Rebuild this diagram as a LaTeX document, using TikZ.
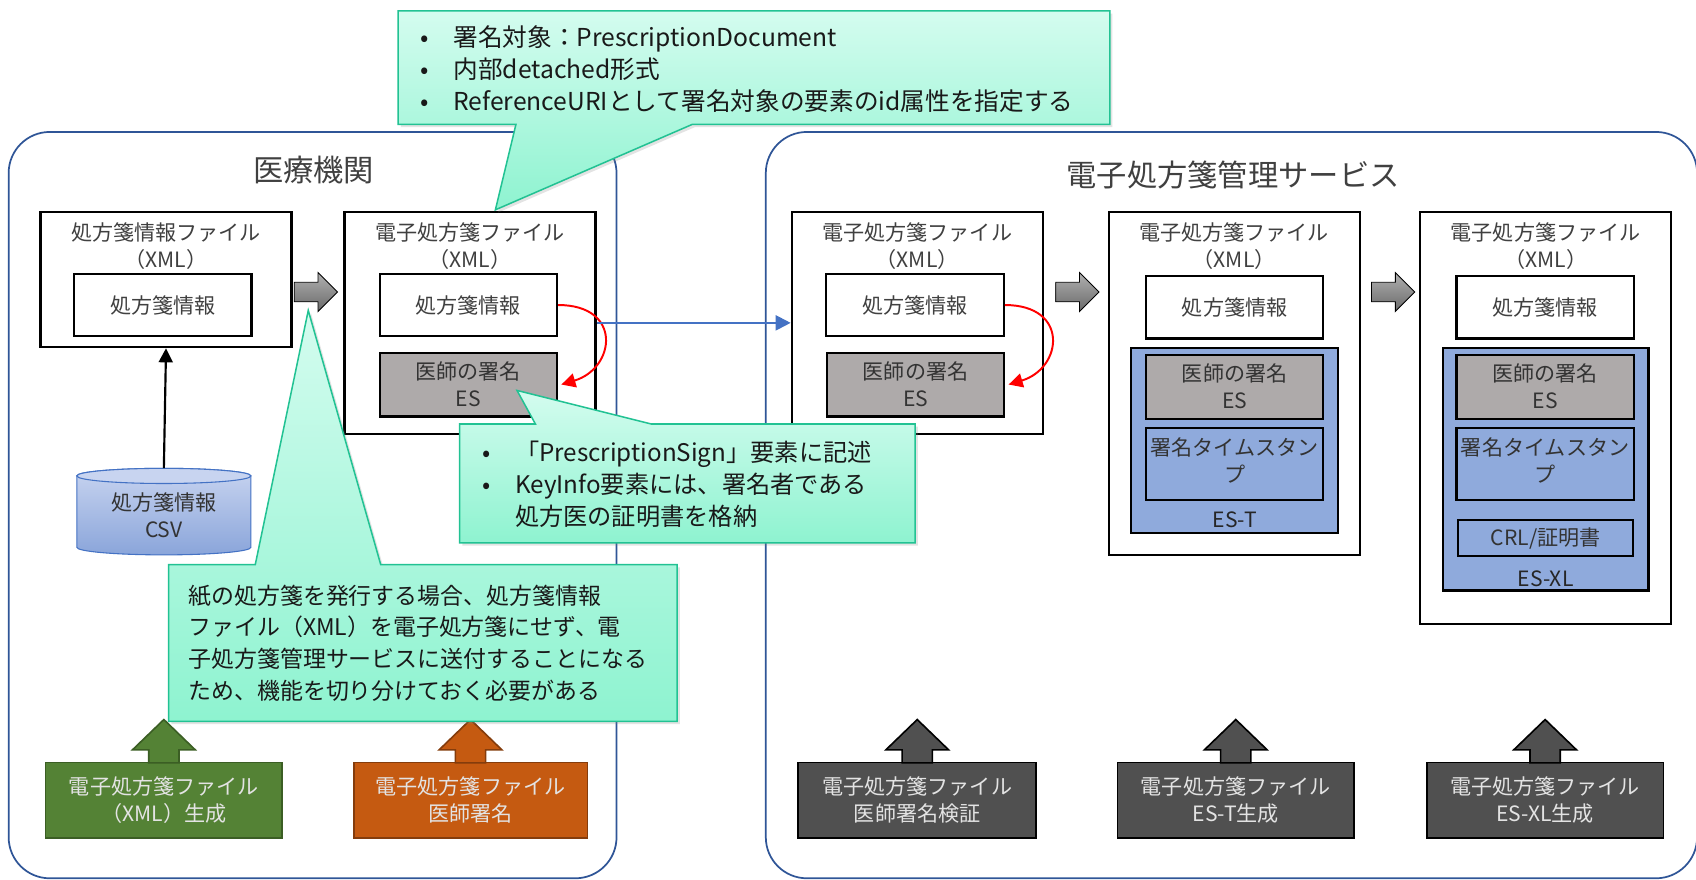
\documentclass[tikz,border=0pt]{standalone}
\usepackage{fontspec}
\setmainfont{Noto Sans CJK JP}
\usetikzlibrary{arrows.meta,shadows}
\definecolor{contc}{HTML}{2F5597}
\definecolor{esgray}{HTML}{AEAAAA}
\definecolor{esblue}{HTML}{8FAADC}
\definecolor{calltop}{HTML}{D4FCEF}
\definecolor{callbot}{HTML}{8EF3D0}
\definecolor{callline}{HTML}{22C293}
\definecolor{txt}{HTML}{404040}
\definecolor{arrblue}{HTML}{4472C4}
\definecolor{gfill}{HTML}{548235}
\definecolor{gline}{HTML}{3B5E24}
\definecolor{ofill}{HTML}{C55A11}
\definecolor{oline}{HTML}{843C0C}
\definecolor{dfill}{HTML}{505050}
\definecolor{ltxt}{HTML}{E3E3E3}
\definecolor{cyltop}{HTML}{C8D4F0}
\definecolor{cylbot}{HTML}{8AA5DA}
\definecolor{rtop}{HTML}{B0B0B0}
\definecolor{rbot}{HTML}{6A6A6A}
\newcommand\boxfont{\fontsize{19.5}{25}\selectfont}
\newcommand\headfont{\fontsize{28}{34}\selectfont}
\newcommand\cbul{\makebox[30pt][l]{•}}
\newcommand\rblock[1]{\path[top color=rtop, bottom color=rbot, draw=black, line width=0.8pt] (#1) ++(0,-9) -- ++(22,0) -- ++(0,-9) -- ++(18,18) -- ++(-18,18) -- ++(0,-9) -- ++(-22,0) -- cycle;}
\newcommand\ublock[2]{\path[#2] (#1) ++(-14,1) -- ++(0,-12) -- ++(-15,0) -- ++(29,-28) -- ++(29,28) -- ++(-15,0) -- ++(0,12) -- cycle;}
\begin{document}
\begin{tikzpicture}[x=1pt,y=-1pt,
 container/.style={draw=contc, line width=1.6pt, rounded corners=38pt, inner sep=0},
 head/.style={text=txt, font=\headfont, inner sep=0},
 filebox/.style={draw=black, line width=2pt, fill=white, inner sep=0, minimum width=232pt},
 ftitle/.style={text=txt, font=\boxfont, align=center, inner sep=0},
 infobox/.style={draw=black, line width=2pt, fill=white, inner sep=0, minimum width=164pt, minimum height=58pt, text=txt, font=\boxfont},
 esbox/.style={draw=black, line width=2pt, fill=esgray, inner sep=0, minimum width=164pt, minimum height=59pt, text=black!80, font=\boxfont, align=center},
 bluebox/.style={draw=black, line width=2pt, fill=esblue, inner sep=0},
 tsbox/.style={draw=black, line width=2pt, fill=esblue, inner sep=0, minimum width=164pt, text=black!80, font=\boxfont, align=center},
 lbl/.style={text=black!85, font=\boxfont, inner sep=0},
 proc/.style={line width=1.5pt, inner sep=0, minimum width=219pt, minimum height=70pt, text=ltxt, font=\boxfont, align=center},
 callout/.style={draw=callline, line width=1.4pt, top color=calltop, bottom color=callbot, drop shadow={opacity=0.22, shadow xshift=2.5pt, shadow yshift=-2.5pt}},
 calltext/.style={text=black!90, align=left, inner sep=0, anchor=west},
 redarr/.style={red, line width=1.8pt, -{Triangle[length=13pt,width=13pt]}},
]
\useasboundingbox (0,0) rectangle (1568,813);
\fill[white] (0,0) rectangle (1568,813);

% containers
\node[container, minimum width=562pt, minimum height=690pt] (med) at (289,467) {};
\node[container, minimum width=861pt, minimum height=690pt] (svc) at (1138.5,467) {};
\node[head] (medt) at (290,157) {医療機関};
\node[head] (svct) at (1140,162) {電子処方箋管理サービス};

% file A
\node[filebox, minimum height=125pt] (A) at (153.5,258.5) {};
\node[ftitle] (At) at (153.5,227.5) {処方箋情報ファイル\\（XML）};
\node[infobox] (Ai) at (150.5,282) {処方箋情報};

% cylinder
\node[minimum width=161pt, minimum height=80pt, inner sep=0] (csv) at (151.5,473) {};
\path[top color=cyltop, bottom color=cylbot, draw=arrblue, line width=1pt]
  (71,440) -- (71,506) arc[start angle=180, end angle=360, x radius=80.5pt, y radius=7pt]
  -- (232,440) arc[start angle=0, end angle=180, x radius=80.5pt, y radius=7pt] -- cycle;
\draw[fill=cyltop, draw=arrblue, line width=1pt] (151.5,440) ellipse [x radius=80.5pt, y radius=7pt];
\node[ftitle, text=black!80] (csvt) at (151.5,476) {処方箋情報\\CSV};
\draw[line width=2pt, -{Triangle[length=13pt,width=13pt]}] (csv.north) -- (A.south);

% file B
\node[filebox, minimum height=205pt] (B) at (434.5,298.5) {};
\node[ftitle] (Bt) at (434.5,227.5) {電子処方箋ファイル\\（XML）};
\node[infobox] (Bi) at (433,282) {処方箋情報};
\node[esbox] (Be) at (433,355.5) {医師の署名\\ES};
\draw[redarr] (Bi.east) .. controls +(60,0) and +(50,-15) .. ([xshift=3pt]Be.east);

% file C
\node[filebox, minimum height=205pt] (C) at (848,298.5) {};
\node[ftitle] (Ct) at (848,227.5) {電子処方箋ファイル\\（XML）};
\node[infobox] (Ci) at (846,282) {処方箋情報};
\node[esbox] (Ce) at (846.5,355.5) {医師の署名\\ES};
\draw[redarr] (Ci.east) .. controls +(60,0) and +(50,-15) .. ([xshift=3pt]Ce.east);

\draw[arrblue, line width=2pt, -{Triangle[length=14pt,width=14pt]}] (B.east) -- (C.west);

% file D
\node[filebox, minimum height=317pt] (D) at (1141,354.5) {};
\node[ftitle] (Dt) at (1141,227.5) {電子処方箋ファイル\\（XML）};
\node[infobox] (Di) at (1141.5,284) {処方箋情報};
\node[bluebox, minimum width=191pt, minimum height=171pt] (Db) at (1141.5,407.5) {};
\node[esbox] (De) at (1141.5,357.5) {医師の署名\\ES};
\node[tsbox, minimum height=66pt] (Dts) at (1141.5,429) {};
\node[ftitle, text=black!80] (Dtst) at (1141.5,426) {署名タイムスタン\\プ};
\node[lbl] (Dl) at (1141.5,481) {ES-T};

% file E
\node[filebox, minimum height=381pt] (E) at (1429,386.5) {};
\node[ftitle] (Et) at (1429,227.5) {電子処方箋ファイル\\（XML）};
\node[infobox] (Ei) at (1428.5,284) {処方箋情報};
\node[bluebox, minimum width=190pt, minimum height=224pt] (Eb) at (1429,434) {};
\node[esbox] (Ee) at (1428.5,357.5) {医師の署名\\ES};
\node[tsbox, minimum height=66pt] (Ets) at (1428.5,429) {};
\node[ftitle, text=black!80] (Etst) at (1428.5,426) {署名タイムスタン\\プ};
\node[tsbox, minimum width=162pt, minimum height=33pt] (Ecrl) at (1429,497.5) {CRL/証明書};
\node[lbl] (El) at (1429,535) {ES-XL};

% gray block arrows
\rblock{272,270}
\rblock{976,270}
\rblock{1268,270}

% bottom process boxes
\node[proc, fill=gfill, draw=gline] (gen) at (151.5,740) {電子処方箋ファイル\\（XML）生成};
\ublock{gen.north}{fill=gfill, draw=gline, line width=1.5pt}
\node[proc, fill=ofill, draw=oline, minimum width=216pt] (sig) at (435,740) {電子処方箋ファイル\\医師署名};
\ublock{sig.north}{fill=ofill, draw=oline, line width=1.5pt}
\node[proc, fill=dfill, draw=black, minimum width=220pt] (ver) at (848,740) {電子処方箋ファイル\\医師署名検証};
\ublock{ver.north}{fill=dfill, draw=black, line width=1.5pt}
\node[proc, fill=dfill, draw=black] (est) at (1142.5,740) {電子処方箋ファイル\\ES-T生成};
\ublock{est.north}{fill=dfill, draw=black, line width=1.5pt}
\node[proc, fill=dfill, draw=black] (esxl) at (1428.5,740) {電子処方箋ファイル\\ES-XL生成};
\ublock{esxl.north}{fill=dfill, draw=black, line width=1.5pt}

% callouts
\path[callout] (368,10) -- (1026,10) -- (1026,115) -- (640,115) -- (458,194) -- (477,115) -- (368,115) -- cycle;
\node[calltext, font=\fontsize{22.8}{29.5}\selectfont] (c1) at (389,64) {\cbul 署名対象：PrescriptionDocument\\\cbul 内部detached形式\\\cbul ReferenceURIとして署名対象の要素のid属性を指定する};

\path[callout] (425,392) -- (495,392) -- (478,361) -- (602,392) -- (846,392) -- (846,502) -- (425,502) -- cycle;
\node[calltext, font=\fontsize{22.4}{29.5}\selectfont] (c2) at (446,448) {\cbul「PrescriptionSign」要素に記述\\\cbul KeyInfo要素には、署名者である\\\makebox[30pt][l]{}処方医の証明書を格納};

\path[callout] (156,522) -- (236,522) -- (285,287) -- (352,522) -- (626,522) -- (626,667) -- (156,667) -- cycle;
\node[calltext, font=\fontsize{21.2}{29.3}\selectfont] (c3) at (174,594.5) {紙の処方箋を発行する場合、処方箋情報\\ファイル（XML）を電子処方箋にせず、電\\子処方箋管理サービスに送付することになる\\ため、機能を切り分けておく必要がある};
\end{tikzpicture}
\end{document}
